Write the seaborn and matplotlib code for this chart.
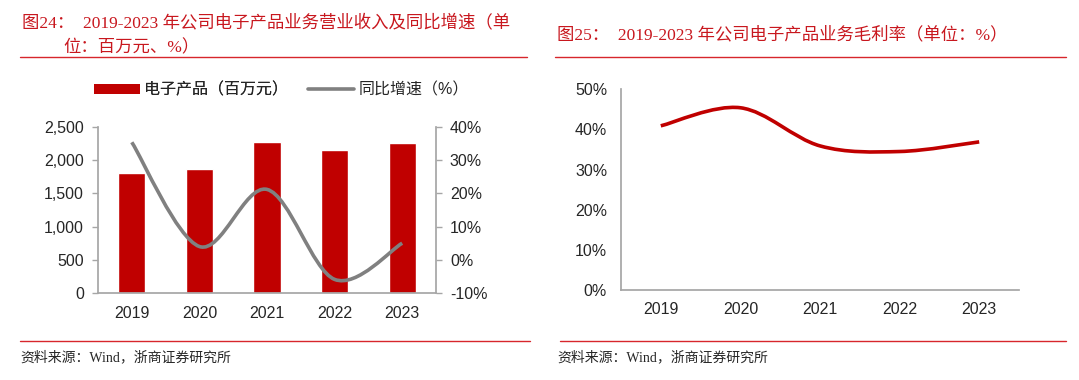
import numpy as np
import pandas as pd
import seaborn as sns
import matplotlib
matplotlib.use("Agg")
import matplotlib.pyplot as plt
from matplotlib.path import Path
from matplotlib.patches import PathPatch, Patch
from matplotlib.lines import Line2D
from matplotlib.ticker import FuncFormatter

years = ["2019", "2020", "2021", "2022", "2023"]
revenue = [1803, 1872, 2270, 2154, 2259]          # 百万元
growth = [35.4, 4.0, 21.2, -5.9, 5.0]               # %
gross_margin = [40.9, 45.4, 35.9, 34.5, 36.9]       # %
legend_labels = ["电子产品（百万元）", "同比增速（%）"]

RED = "#C00000"
GRAY = "#808080"
TITLE_RED = "#C8171E"
RULE_RED = "#D7262C"
AX_GRAY = "#A6A6A6"
TXT = "#262626"

sns.set_theme(style="white")
plt.rcParams["font.family"] = ["Liberation Sans", "Noto Sans CJK SC", "DejaVu Sans"]
TITLE_FAM = ["Liberation Serif", "Noto Sans CJK SC", "DejaVu Sans"]
FS = 11.5

fig = plt.figure(figsize=(10.79, 3.80), dpi=100)
W, H = 1079, 380


def fx(px):
    return px / W


def fy(py):
    return 1 - py / H


def smooth_path(xs, ys):
    pts = np.column_stack([xs, ys]).astype(float)
    n = len(pts)
    verts = [pts[0]]
    codes = [Path.MOVETO]
    for i in range(n - 1):
        p0 = pts[i - 1] if i > 0 else pts[i]
        p1 = pts[i]
        p2 = pts[i + 1]
        p3 = pts[i + 2] if i + 2 < n else pts[i + 1]
        c1 = p1 + (p2 - p0) / 6.0
        c2 = p2 - (p3 - p1) / 6.0
        verts += [c1, c2, p2]
        codes += [Path.CURVE4] * 3
    return Path(verts, codes)


def style_axis(ax):
    for s in ["top", "right", "left", "bottom"]:
        ax.spines[s].set_visible(False)
    ax.tick_params(colors=TXT, labelsize=FS, length=4, width=1, color=AX_GRAY)


def cat_x_axis(ax):
    ax.set_xlim(-0.5, 4.5)
    ax.set_xticks(range(5))
    ax.set_xticklabels(years)
    ax.tick_params(axis="x", length=0, pad=9)
    ax.set_xticks(np.arange(-0.5, 5, 1), minor=True)
    ax.tick_params(axis="x", which="minor", length=4, width=1, color=AX_GRAY)
    ax.tick_params(axis="y", pad=6)
    for s in ["left", "bottom"]:
        ax.spines[s].set_visible(True)
        ax.spines[s].set_color(AX_GRAY)


# ---------------- Left chart ----------------
ax1 = fig.add_axes([fx(98), fy(293), fx(436 - 98), (293 - 127) / H])
df = pd.DataFrame({"year": years, "revenue": revenue})
sns.barplot(data=df, x="year", y="revenue", color=RED, width=0.4,
            saturation=1, ax=ax1)
ax1.set_ylim(0, 2500)
ax1.set_yticks(np.arange(0, 2501, 500))
ax1.yaxis.set_major_formatter(FuncFormatter(lambda v, p: f"{int(v):,}"))
ax1.set_xlabel("")
ax1.set_ylabel("")
style_axis(ax1)
cat_x_axis(ax1)

ax1b = ax1.twinx()
ax1b.set_ylim(-10, 40)
ax1b.set_yticks(np.arange(-10, 41, 10))
ax1b.yaxis.set_major_formatter(FuncFormatter(lambda v, p: f"{int(v)}%"))
style_axis(ax1b)
ax1b.spines["right"].set_visible(True)
ax1b.spines["right"].set_color(AX_GRAY)
ax1b.tick_params(axis="y", pad=6)
ax1b.add_patch(PathPatch(smooth_path(range(5), growth), facecolor="none",
                         edgecolor=GRAY, lw=2.6, capstyle="butt",
                         transform=ax1b.transData))

leg_kw = dict(loc="center left", frameon=False, fontsize=FS, borderpad=0,
              borderaxespad=0, handletextpad=0.25, handlelength=2.9,
              handleheight=0.5)
leg1 = fig.legend([Patch(facecolor=RED, edgecolor="none")], [legend_labels[0]],
                  bbox_to_anchor=(fx(94), fy(90)), **leg_kw)
fig.add_artist(leg1)
fig.legend([Line2D([0], [0], color=GRAY, lw=2.6)], [legend_labels[1]],
           bbox_to_anchor=(fx(308), fy(90)), **leg_kw)

# ---------------- Right chart ----------------
ax2 = fig.add_axes([fx(621), fy(290), fx(1019 - 621), (290 - 89.3) / H])
sns.lineplot(x=list(range(5)), y=gross_margin, ax=ax2, alpha=0)
ax2.add_patch(PathPatch(smooth_path(range(5), gross_margin), facecolor="none",
                        edgecolor=RED, lw=2.6, capstyle="butt",
                        transform=ax2.transData))
ax2.set_ylim(0, 50)
ax2.set_yticks(np.arange(0, 51, 10))
ax2.yaxis.set_major_formatter(FuncFormatter(lambda v, p: f"{int(v)}%"))
style_axis(ax2)
cat_x_axis(ax2)

# ---------------- Titles, rules, sources ----------------
fig.text(fx(22), fy(23), "图24：  2019-2023 年公司电子产品业务营业收入及同比增速（单",
         family=TITLE_FAM, color=TITLE_RED, fontsize=12.5, va="center", ha="left")
fig.text(fx(63), fy(48), "位：百万元、%）",
         family=TITLE_FAM, color=TITLE_RED, fontsize=12.5, va="center", ha="left")
fig.text(fx(557), fy(35), "图25：  2019-2023 年公司电子产品业务毛利率（单位：%）",
         family=TITLE_FAM, color=TITLE_RED, fontsize=12.5, va="center", ha="left")

for (x0, x1, y) in [(20, 527, 57), (555, 1066, 57), (20, 530, 341), (560, 1066, 341)]:
    fig.add_artist(Line2D([fx(x0), fx(x1)], [fy(y), fy(y)], color=RULE_RED, lw=1.0,
                          transform=fig.transFigure))

fig.text(fx(20), fy(357), "资料来源：Wind，浙商证券研究所", family=TITLE_FAM,
         color=TXT, fontsize=10, va="center", ha="left")
fig.text(fx(557), fy(357), "资料来源：Wind，浙商证券研究所", family=TITLE_FAM,
         color=TXT, fontsize=10, va="center", ha="left")

fig.savefig("out.png", dpi=100, facecolor="white")
